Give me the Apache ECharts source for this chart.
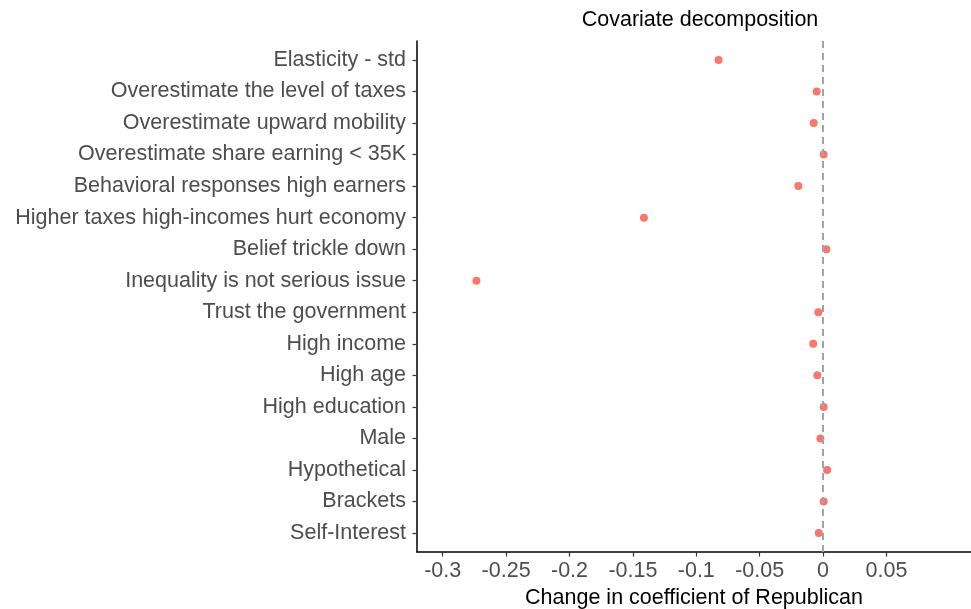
<!DOCTYPE html>
<html>
<head>
<meta charset="utf-8">
<script src="https://cdn.jsdelivr.net/npm/echarts@6/dist/echarts.min.js"></script>
<style>html,body{margin:0;padding:0;background:#fff;}#c{width:971px;height:609px;}</style>
</head>
<body>
<div id="c"></div>
<script>
var categories = [
  "Elasticity - std",
  "Overestimate the level of taxes",
  "Overestimate upward mobility",
  "Overestimate share earning < 35K",
  "Behavioral responses high earners",
  "Higher taxes high-incomes hurt economy",
  "Belief trickle down",
  "Inequality is not serious issue",
  "Trust the government",
  "High income",
  "High age",
  "High education",
  "Male",
  "Hypothetical",
  "Brackets",
  "Self-Interest"
];
var values = [-0.0824, -0.0050, -0.0074, 0.0005, -0.0195, -0.1413, 0.0026, -0.2734,
              -0.0037, -0.0077, -0.0045, 0.0005, -0.0021, 0.0032, 0.0005, -0.0034];
var xTicks = [-0.3, -0.25, -0.2, -0.15, -0.1, -0.05, 0, 0.05];
var refLine = 0;

var chart = echarts.init(document.getElementById('c'));
var idx = categories.map(function (c, i) { return i; });
var font = 'Liberation Sans, Arial, sans-serif';
var fs = 21.5;
chart.setOption({
  animation: false,
  title: {
    text: 'Covariate decomposition',
    left: 695, textAlign: 'center', top: 4,
    textStyle: { color: '#000', fontSize: fs, fontWeight: 'normal', fontFamily: font }
  },
  grid: { left: 417, right: 0, top: 41, bottom: 57, containLabel: false, outerBoundsMode: 'none' },
  xAxis: {
    type: 'value', min: -0.3203, max: 0.1167,
    name: 'Change in coefficient of Republican', nameLocation: 'middle', nameGap: 34,
    nameTextStyle: { color: '#000', fontSize: fs, fontFamily: font },
    axisLine: { show: true, onZero: false, lineStyle: { color: '#000', width: 1.5 } },
    axisTick: { show: true, length: 4.5, lineStyle: { color: '#333', width: 1.2 }, customValues: xTicks },
    axisLabel: { color: '#4D4D4D', fontSize: fs, fontFamily: font, margin: 8, customValues: xTicks,
      formatter: function (v) { return String(v); } },
    splitLine: { show: false }
  },
  yAxis: {
    type: 'value', inverse: true, min: -0.6, max: 15.6,
    axisLine: { show: true, onZero: false, lineStyle: { color: '#000', width: 1.5 } },
    axisTick: { show: true, length: 4.5, lineStyle: { color: '#333', width: 1.2 }, customValues: idx },
    axisLabel: { color: '#4D4D4D', fontSize: fs, fontFamily: font, margin: 11, customValues: idx,
      formatter: function (v) { return categories[Math.round(v)]; } },
    splitLine: { show: false }
  },
  series: [{
    type: 'scatter',
    symbolSize: 8,
    itemStyle: { color: '#F8766D', opacity: 1 },
    data: values.map(function (v, i) { return [v, i]; }),
    markLine: {
      silent: true, symbol: 'none', animation: false,
      label: { show: false },
      lineStyle: { color: '#A3A3A3', type: [7, 5], width: 2 },
      data: [{ xAxis: refLine }]
    },
    z: 3
  }]
});
</script>
</body>
</html>
